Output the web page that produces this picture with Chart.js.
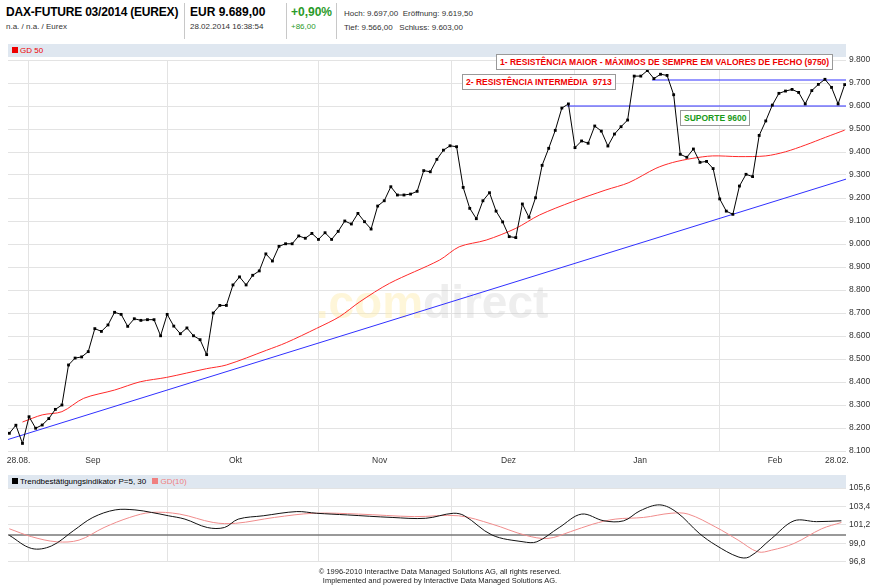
<!DOCTYPE html>
<html><head><meta charset="utf-8">
<script src="https://cdn.jsdelivr.net/npm/chart.js@4.4.1/dist/chart.umd.min.js"></script>
<style>
body{margin:0;width:880px;height:586px;background:#fff;font-family:"Liberation Sans",Arial,sans-serif;position:relative;overflow:hidden}
.a{position:absolute;white-space:nowrap}
.sep{position:absolute;top:3px;height:36px;border-left:1px solid #c8c8c8}
.bar{position:absolute;left:8px;width:838px;height:13px;background:#dfe7f0;font-size:8px;line-height:13px}
.sq{display:inline-block;width:6px;height:6px;margin:0 2px 0 4px;vertical-align:-0px}
.box{position:absolute;background:#fff;border:1px solid #999;font:bold 8.5px "Liberation Sans",Arial,sans-serif;line-height:14px;padding:0 3px;white-space:nowrap}
</style></head><body>
<div class="a" style="left:6px;top:5px;font-size:12px;font-weight:bold;letter-spacing:-0.2px">DAX-FUTURE 03/2014 (EUREX)</div>
<div class="a" style="left:6px;top:22px;font-size:8px;color:#333">n.a. / n.a. / Eurex</div>
<div class="sep" style="left:184px"></div>
<div class="a" style="left:190px;top:5px;font-size:12px;font-weight:bold">EUR 9.689,00</div>
<div class="a" style="left:190px;top:22px;font-size:8px;color:#333">28.02.2014 16:38:54</div>
<div class="sep" style="left:286px"></div>
<div class="a" style="left:291px;top:5px;font-size:12px;font-weight:bold;color:#2a9a2a">+0,90%</div>
<div class="a" style="left:291px;top:22px;font-size:8px;color:#2a9a2a">+86,00</div>
<div class="sep" style="left:336px"></div>
<div class="a" style="left:344px;top:9px;font-size:8px;color:#333">Hoch: 9.697,00&nbsp; Eröffnung: 9.619,50</div>
<div class="a" style="left:344px;top:23px;font-size:8px;color:#333">Tief: 9.566,00&nbsp;&nbsp; Schluss: 9.603,00</div>
<div class="bar" style="top:44px;color:#e00"><span class="sq" style="background:#e00"></span>GD 50</div>
<div class="bar" style="top:475px"><span class="sq" style="background:#000"></span>Trendbestätigungsindikator P=5, 30 <span class="sq" style="background:#f08080"></span><span style="color:#f08080">GD(10)</span></div>
<div style="position:absolute;left:0;top:50px;width:880px;height:425px"><canvas id="c1"></canvas></div>
<div style="position:absolute;left:0;top:480px;width:880px;height:90px"><canvas id="c2"></canvas></div>
<div class="box" style="left:496px;top:54px;color:#e00">1- RESISTÊNCIA MAIOR - MÁXIMOS DE SEMPRE EM VALORES DE FECHO (9750)</div>
<div class="box" style="left:462px;top:74px;color:#e00">2- RESISTÊNCIA INTERMÉDIA&nbsp; 9713</div>
<div class="box" style="left:680px;top:110px;color:#1a9a1a">SUPORTE 9600</div>
<div class="a" style="left:0;width:880px;text-align:center;top:567px;font-size:7.5px;color:#222;line-height:9px">© 1996-2010 Interactive Data Managed Solutions AG, all rights reserved.<br>Implemented and powered by Interactive Data Managed Solutions AG.</div>
<script>
const prices=[8177,8212,8133,8249,8199,8213,8241,8281,8300,8474,8504,8509,8532,8632,8620,8648,8703,8694,8642,8675,8668,8671,8671,8601,8694,8643,8610,8635,8601,8584,8519,8700,8733,8733,8822,8857,8822,8864,8883,8957,8926,8990,9001,9001,9035,9025,9046,9020,9049,9020,9055,9100,9087,9133,9097,9065,9165,9188,9249,9213,9213,9217,9229,9319,9314,9368,
9408,9427,9423,9246,9155,9110,9188,9223,9143,9096,9032,9028,9174,9116,9201,9342,9416,9494,9591,9609,9419,9448,9438,9513,9491,9426,9478,9510,9539,9730,9730,9754,9719,9738,9733,9649,9390,9377,9413,9355,9359,9328,9196,9143,9129,9252,9303,9293,9472,9535,9604,9655,9665,9672,9659,9609,9667,9694,9716,9681,9609,9693];
const gd50Idx=[2.0,5.0,8.0,11.3,16.0,19.9,23.9,30.0,33.0,39.1,42.1,46.7,50.2,53.3,57.8,65.4,68.4,72.5,77.0,80.6,85.6,90.7,94.2,98.3,100.8,103.8,106.9,110.9,115.0,118.0,121.0,124.1,127.0];
const gd50Vals=[8226,8257,8271,8329,8365,8401,8420,8458,8474,8538,8571,8633,8684,8749,8829,8930,8988,9017,9068,9126,9184,9235,9267,9329,9354,9372,9383,9380,9383,9401,9430,9464,9495];
const trendIdx=[-0.2,127.2], trendVals=[8150,9282];
const resIdx=[97.7,127.2], resVal=9713;
const supIdx=[84.8,127.2], supVal=9600;
const monthLabels=["28.08.","Sep","Okt","Nov","Dez","Jan","Feb","28.02."];
const monthIdx=[1.4,12.7,34.4,56.3,75.9,95.9,116.4,125.8];
const gridIdx=[2.9,24,47,67.2,86,108];
const indIdx=[0,3.4,6.4,9.8,12.7,16.1,19.1,21.6,24.2,26.7,30.1,32.7,34.8,38.6,43.7,46.7,51.4,58.2,63.3,67.5,69.2,73.4,78.1,80.2,83.6,87.0,90.4,93.4,95.9,98.9,101.5,104.9,107.4,110.8,112.5,115.9,119.3,122.7,126.5];
const indVals=[99.97,98.4,98.7,100.55,102.1,103.0,103.0,102.7,102.3,101.9,100.9,100.9,101.9,102.3,102.8,102.6,102.4,102.1,102.0,102.6,102.3,100.0,99.2,99.2,100.9,102.5,101.7,101.7,102.9,103.6,102.7,100.2,98.8,97.4,97.4,99.6,101.7,101.6,101.7];
const gd10Idx=[0,3.4,7.2,10.6,14.4,18.3,21.6,25.9,31.0,34.4,40.3,46.3,53.1,61.6,68.3,73.4,78.5,81.9,85.3,88.7,92.1,96.4,100.6,103.2,107.4,110.8,113.8,115.9,119.3,123.5,126.5];
const gd10Vals=[100.75,99.8,99.2,99.4,100.9,102.1,102.7,102.5,101.5,101.4,102.1,102.6,102.5,102.2,102.3,101.3,99.97,99.6,100.4,101.3,101.9,102.1,102.6,102.5,100.95,99.4,98.0,98.2,99.0,100.75,101.5];

const xy=(xs,ys)=>xs.map((x,i)=>({x,y:Array.isArray(ys)?ys[i]:ys}));
const F='"Liberation Sans", Arial, sans-serif';
const fmt=new Intl.NumberFormat('de-DE',{minimumFractionDigits:0});
const xScale=(show)=>({type:'linear',min:-0.2,max:127.2,
  afterBuildTicks:s=>{s.ticks=gridIdx.map(v=>({value:v}));},
  afterFit:s=>{s.height=show?24:0;},
  ticks:{display:false},grid:{color:'#e3e3e3',drawTicks:false},border:{display:false}});
const labelPlugin={id:'lbl',afterDraw(ch){const c=ch.ctx,x=ch.scales.x;c.save();c.font='8.5px '+F;c.fillStyle='#333';c.textAlign='center';
  monthLabels.forEach((l,i)=>c.fillText(l,x.getPixelForValue(monthIdx[i]),ch.chartArea.bottom+12));c.restore();}};
const wm={id:'wm',beforeDatasetsDraw(ch){const c=ch.ctx;c.save();c.font='bold 46px '+F;c.textBaseline='middle';
  const t1='.com',t2='direct',w1=c.measureText(t1).width,w2=c.measureText(t2).width,x0=432-(w1+w2)/2;
  c.fillStyle='rgba(253,236,170,0.45)';c.fillText(t1,x0,255);c.fillStyle='rgba(200,200,200,0.3)';c.fillText(t2,x0+w1,255);c.restore();}};
Chart.defaults.animation=false;Chart.defaults.font.family=F;
new Chart(document.getElementById('c1'),{type:'scatter',
 data:{datasets:[
  {data:prices.map((v,i)=>({x:i,y:v})),showLine:true,borderColor:'#000',borderWidth:1,pointStyle:'rect',pointRadius:2,pointBackgroundColor:'#000',pointBorderWidth:0,order:0},
  {data:xy(gd50Idx,gd50Vals),showLine:true,borderColor:'#ff2a2a',borderWidth:1,pointRadius:0,tension:0.3},
  {data:xy(trendIdx,trendVals),showLine:true,borderColor:'#3030ff',borderWidth:1,pointRadius:0},
  {data:xy(resIdx,resVal),showLine:true,borderColor:'#3030ff',borderWidth:1,pointRadius:0},
  {data:xy(supIdx,supVal),showLine:true,borderColor:'#3030ff',borderWidth:1,pointRadius:0}]},
 options:{responsive:true,maintainAspectRatio:false,layout:{padding:{top:10,left:8,right:0,bottom:0}},
  plugins:{legend:{display:false},tooltip:{enabled:false}},
  scales:{x:xScale(true),
   y:{position:'right',min:8100,max:9800,afterFit:s=>{s.width=34;},
    ticks:{stepSize:100,font:{size:8.5},color:'#333',padding:3,callback:v=>fmt.format(v)},
    grid:{color:'#e3e3e3',drawTicks:false},border:{display:false}}}},
 plugins:[labelPlugin,wm]});
new Chart(document.getElementById('c2'),{type:'scatter',
 data:{datasets:[
  {data:xy(indIdx,indVals),showLine:true,borderColor:'#111',borderWidth:1,pointRadius:0,tension:0.35},
  {data:xy(gd10Idx,gd10Vals),showLine:true,borderColor:'#f08c8c',borderWidth:1,pointRadius:0,tension:0.35},
  {data:xy([-0.2,127.2],100),showLine:true,borderColor:'#777',borderWidth:1.5,pointRadius:0}]},
 options:{responsive:true,maintainAspectRatio:false,layout:{padding:{top:7,left:8,right:0,bottom:8}},
  plugins:{legend:{display:false},tooltip:{enabled:false}},
  scales:{x:xScale(false),
   y:{position:'right',min:96.8,max:105.6,afterFit:s=>{s.width=34;},
    afterBuildTicks:s=>{s.ticks=[96.8,99.0,101.2,103.4,105.6].map(v=>({value:v}));},
    ticks:{font:{size:8.5},color:'#333',padding:3,callback:v=>v.toFixed(1).replace('.',',')},
    grid:{color:'#e3e3e3',drawTicks:false},border:{display:false}}}}});
</script></body></html>
